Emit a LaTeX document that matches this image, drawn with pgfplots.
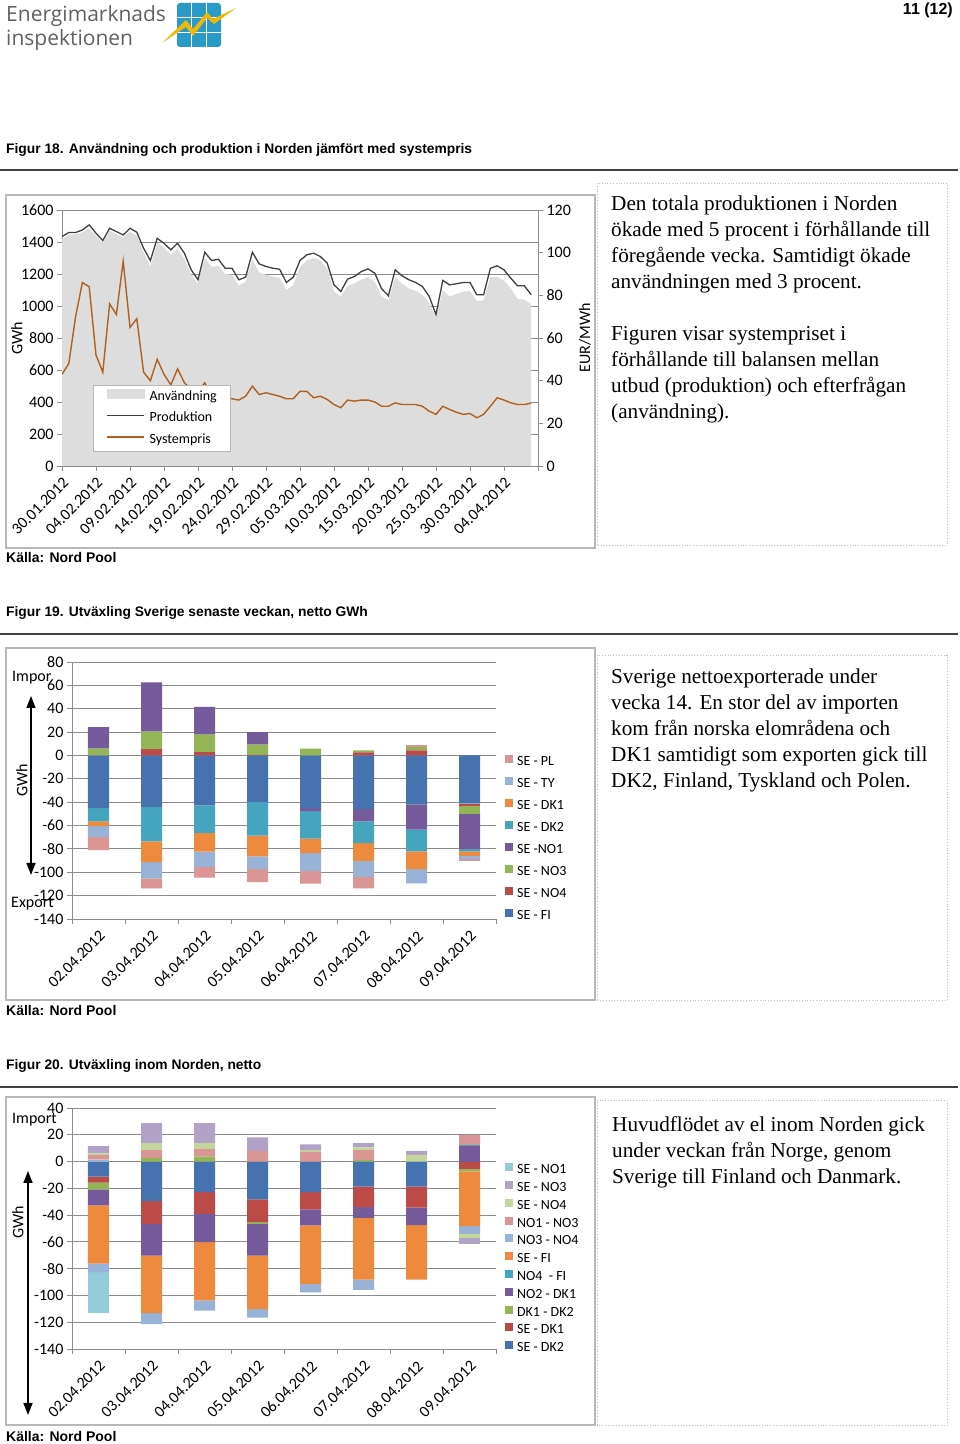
\documentclass[border=0pt]{standalone}
\usepackage{pgfplots}
\pgfplotsset{compat=1.18}
\usepackage{pgfplotstable}
\usepackage{fontspec}
\usetikzlibrary{arrows.meta}
\setmainfont{Liberation Serif}
\newfontfamily\calib{Carlito}
\newfontfamily\arialf{Liberation Sans}
\newfontfamily\logof{Open Sans}

\definecolor{usage}{HTML}{DDDDDD}
\definecolor{prod}{HTML}{404040}
\definecolor{price}{HTML}{B0601E}
\definecolor{gridc}{HTML}{8C8C8C}
\definecolor{boxc}{HTML}{B8B8B8}
\definecolor{logoblue}{HTML}{2A9BC8}
\definecolor{logoyel}{HTML}{F2B705}
\definecolor{c1}{HTML}{4672B0}
\definecolor{c2}{HTML}{BC4B48}
\definecolor{c3}{HTML}{94B556}
\definecolor{c4}{HTML}{755A9C}
\definecolor{c5}{HTML}{45A5BF}
\definecolor{c6}{HTML}{EE8A3E}
\definecolor{c7}{HTML}{98B2D8}
\definecolor{c8}{HTML}{D99694}
\definecolor{c9}{HTML}{C3D69B}
\definecolor{c10}{HTML}{B3A2C7}
\definecolor{c11}{HTML}{93CDDD}

\pgfplotstableread{
d U P S
0 1420 1434 43
1 1445 1459 48
2 1448 1459 70
3 1460 1475 86
4 1485 1507 84
5 1440 1455 52
6 1395 1409 44
7 1470 1486 76
8 1450 1465 71
9 1430 1444 96
10 1465 1486 65
11 1440 1461 69
12 1335 1361 44
13 1245 1284 40
14 1395 1423 50
15 1365 1392 43
16 1320 1351 38
17 1355 1392 45.5
18 1295 1330 39
19 1195 1226 36
20 1140 1164 35
21 1300 1336 39
22 1245 1284 33
23 1250 1292 31.5
24 1200 1236 32
25 1195 1236 31.5
26 1130 1164 30.9
27 1150 1180 32.7
28 1290 1336 37.4
29 1210 1263 33.5
30 1195 1247 34.3
31 1185 1236 33.5
32 1175 1230 32.7
33 1100 1147 31.5
34 1130 1180 31.5
35 1245 1284 35
36 1285 1320 35
37 1300 1330 32
38 1285 1309 32.7
39 1235 1268 31.2
40 1090 1132 28.8
41 1060 1091 27.3
42 1125 1168 30.9
43 1140 1184 30.4
44 1165 1215 30.9
45 1180 1232 30.9
46 1150 1205 30
47 1060 1108 28
48 1035 1064 28
49 1180 1226 29.6
50 1140 1189 28.8
51 1110 1164 28.8
52 1095 1147 28.8
53 1070 1122 28
54 1020 1060 25.7
55 925 946 24.2
56 1100 1160 28
57 1060 1132 26.5
58 1075 1139 25.2
59 1090 1147 24.2
60 1095 1147 24.6
61 1030 1070 22.6
62 1035 1070 24.2
63 1180 1236 28
64 1180 1251 32
65 1160 1226 30.9
66 1110 1174 29.6
67 1045 1126 28.8
68 1040 1126 28.8
69 1010 1070 29.5
}\tabA

\pgfplotstableread{
x fi no4 no3 no1 dk2 dk1 ty pl
0 0 0 5.8 18.4 0 0 0 0
1 0 5.5 15 42 0 0 0 0
2 0 2.9 15 23.6 0 0 0 0
3 0 0.6 8.6 10.7 0 0 0 0
4 0 0 5.8 0 0 0 0 0
5 0 2.6 1.7 0 0 0 0 0
6 0 4.3 2.9 0 0 0 0 2
7 0 0 0 0 0 0 0 0
}\tabBpos
\pgfplotstableread{
x fi no4 no3 no1 dk2 dk1 ty pl
0 -45 0 0 0 -11.5 -4 -9.5 -11
1 -44 0 0 0 -29.5 -17.9 -13.8 -8.6
2 -42.7 0 0 0 -23.6 -16.1 -13 -9.2
3 -40 0 0 0 -28.6 -17.9 -10.9 -11
4 -45 0 0 -2.6 -23.6 -12.4 -15.2 -11
5 -46 0 0 -10.5 -18.5 -15.2 -13.8 -9.8
6 -41.8 0 0 -21.6 -18.7 -15.3 -12.1 0
7 -41.2 -2.3 -6.4 -30.2 -2 -3.8 -2.9 -1.4
}\tabBneg

\pgfplotstableread{
x dk2 sdk1 dd nod nofi sefi n34 n13 sno4 sno3 sno1
0 0 0 0 0 0 0 1.5 3.5 1.2 5.3 0
1 0 0 2.5 0 0 0 0 6 5.25 15 0
2 0 0 3.75 0 0 0 0 5.5 4.5 15 0
3 0 0 0 0 0 0 0 8 0 10 0
4 0 0 0 0 0 0 0 7.25 1.25 4.25 0
5 0 0 1 0 0 0 0 7.5 2 3.25 0
6 0 0 0 0 0 0 0 0 5 3 0
7 0 0 0 11.7 0.7 0 0 7.3 0 0 0
}\tabCpos
\pgfplotstableread{
x dk2 sdk1 dd nod nofi sefi n34 n13 sno4 sno3 sno1
0 -11.25 -4.5 -5 -12 0 -43.5 -6.5 0 0 0 -30
1 -29.5 -17 0 -23.75 0 -43 -8.25 0 0 0 0
2 -22.75 -16.25 0 -21.25 0 -43.5 -7.5 0 0 0 0
3 -28.25 -17 -1.25 -23.75 0 -40 -6.25 0 0 0 0
4 -22.75 -13 0 -12 0 -43.75 -6.25 0 0 0 0
5 -18.75 -15.25 0 -8 0 -46.25 -7.5 0 0 0 0
6 -18.75 -15.75 0 -13 0 -40.75 0 0 0 0 0
7 0 -5.5 -1.75 0 0 -41 -5.8 0 -2.8 -4.9 0
}\tabCneg

\pgfplotsset{
  tickfont/.style={font=\calib\fontsize{16}{16}\selectfont},
  common/.style={
    scale only axis, anchor=south west,
    axis line style={draw=gridc, line width=0.9pt, -},
    tick style={draw=gridc, line width=0.9pt},
    grid style={draw=gridc, line width=0.9pt},
    tick align=outside, major tick length=5pt, minor tick length=5pt,
    tick label style={tickfont, text=black},
    xticklabel style={yshift=-4pt, rotate=45, anchor=north east, inner sep=1pt},
  },
  barchart/.style={
    common,
    xmin=-0.5, xmax=7.5,
    ybar stacked, bar width=21pt,
    axis x line*=bottom, axis y line*=left,
    ymajorgrids,
    xtick={0,...,7},
    xticklabels={02.04.2012,03.04.2012,04.04.2012,05.04.2012,06.04.2012,07.04.2012,08.04.2012,09.04.2012},
    minor xtick={-0.5,0.5,...,7.5},
    major x tick style={draw=none},
    reverse legend,
    legend cell align=left,
    legend image code/.code={\fill[##1] (0pt,-0.5pt) rectangle (8pt,7.5pt);},
  },
}

\begin{document}
\begin{tikzpicture}[x=1pt,y=1pt]
\useasboundingbox (0,0) rectangle (960,1444);
\fill[white] (0,0) rectangle (960,1444);

% ---------- header ----------
\node[anchor=base west, inner sep=0, text=black!62, font=\logof\fontsize{21}{21}\selectfont] at (6,1422) {Energimarknads};
\node[anchor=base west, inner sep=0, text=black!62, font=\logof\fontsize{21}{21}\selectfont] at (6,1398) {inspektionen};
\fill[logoblue, rounded corners=3pt] (177,1441) rectangle (221,1397);
\draw[white, line width=1.4pt] (191.7,1441)--(191.7,1397) (206.3,1441)--(206.3,1397)
  (177,1426.3)--(221,1426.3) (177,1411.7)--(221,1411.7);
\fill[logoyel] (162,1401)--(186,1424)--(193,1415)--(207,1432)--(213,1425)--(236,1436)
  --(214,1420)--(207,1426)--(193,1408)--(186,1417)--cycle;
\node[anchor=base east, inner sep=0, font=\arialf\bfseries\fontsize{16}{16}\selectfont] at (953,1429) {11 (12)};

% ---------- Figure 18 ----------
\node[anchor=base west, inner sep=0, font=\arialf\bfseries\fontsize{13.8}{14}\selectfont] at (6,1290)
  {Figur 18. Användning och produktion i Norden jämfört med systempris};
\draw[black!75, line width=1.6pt] (0,1274) -- (958,1274);
\draw[boxc, line width=1.2pt] (6,896) rectangle (595,1249);
\draw[black!25, dotted, line width=0.8pt] (597,899) rectangle (947,1261);
\node[anchor=base west, inner sep=0, font=\arialf\bfseries\fontsize{14}{14}\selectfont] at (6,881) {Källa: Nord Pool};

\begin{axis}[common,
  at={(62pt,978pt)}, width=476pt, height=256pt,
  xmin=0, xmax=70, ymin=0, ymax=1600,
  axis x line*=bottom, axis y line*=left,
  ymajorgrids,
  ytick={0,200,...,1600},
  yticklabels={0,200,400,600,800,1000,1200,1400,1600},
  xtick={0,5,...,70},
  xticklabels={30.01.2012,04.02.2012,09.02.2012,14.02.2012,19.02.2012,24.02.2012,29.02.2012,05.03.2012,10.03.2012,15.03.2012,20.03.2012,25.03.2012,30.03.2012,04.04.2012,{}},
]
\addplot[fill=usage, draw=none] table[x=d,y=U]{\tabA} \closedcycle;
\addplot[prod, line width=1.3pt] table[x=d,y=P]{\tabA};
\end{axis}

\begin{axis}[common,
  at={(62pt,978pt)}, width=476pt, height=256pt,
  xmin=0, xmax=70, ymin=0, ymax=120,
  axis x line=none, axis y line*=right,
  ytick={0,20,...,120},
  yticklabels={0,20,40,60,80,100,120},
  legend style={at={(0.065,0.316)}, anchor=north west, draw=boxc, fill=white,
    font=\calib\fontsize{14}{14}\selectfont, inner xsep=13pt, inner ysep=4pt,
    row sep=7.5pt, nodes={inner sep=0pt, text height=10pt, text depth=4pt},
    /tikz/every odd column/.append style={column sep=5pt}},
  legend cell align=left,
  legend image code/.code={\draw[#1] (0pt,3.5pt) -- (37pt,3.5pt);},
]
\addlegendimage{legend image code/.code={\fill[usage] (0pt,-0.5pt) rectangle (37pt,8pt);}}
\addlegendentry{Användning}
\addlegendimage{prod, line width=1.3pt}
\addlegendentry{Produktion}
\addplot[price, line width=1.4pt] table[x=d,y=S]{\tabA};
\addlegendentry{Systempris}
\end{axis}

\node[rotate=90, inner sep=0, font=\calib\fontsize{16}{16}\selectfont] at (17,1106) {GWh};
\node[rotate=90, inner sep=0, font=\calib\fontsize{16}{16}\selectfont] at (585,1106) {EUR/MWh};

\begin{scope}[font=\fontsize{21.2}{26}\selectfont]
\node[anchor=base west, inner sep=0] at (611,1233) {Den totala produktionen i Norden};
\node[anchor=base west, inner sep=0] at (611,1207) {ökade med 5 procent i förhållande till};
\node[anchor=base west, inner sep=0] at (611,1181) {föregående vecka. Samtidigt ökade};
\node[anchor=base west, inner sep=0] at (611,1155) {användningen med 3 procent.};
\node[anchor=base west, inner sep=0] at (611,1103) {Figuren visar systempriset i};
\node[anchor=base west, inner sep=0] at (611,1077) {förhållande till balansen mellan};
\node[anchor=base west, inner sep=0] at (611,1051) {utbud (produktion) och efterfrågan};
\node[anchor=base west, inner sep=0] at (611,1025) {(användning).};
\end{scope}

% ---------- Figure 19 ----------
\node[anchor=base west, inner sep=0, font=\arialf\bfseries\fontsize{13.8}{14}\selectfont] at (6,827)
  {Figur 19. Utväxling Sverige senaste veckan, netto GWh};
\draw[black!75, line width=1.6pt] (0,810) -- (958,810);
\draw[boxc, line width=1.2pt] (6,444) rectangle (595,796);
\draw[black!25, dotted, line width=0.8pt] (597,444) rectangle (947,789);
\node[anchor=base west, inner sep=0, font=\arialf\bfseries\fontsize{14}{14}\selectfont] at (6,428) {Källa: Nord Pool};

\begin{axis}[barchart,
  at={(72pt,525pt)}, width=424pt, height=257pt,
  ymin=-140, ymax=80,
  ytick={-140,-120,...,80},
  yticklabels={-140,-120,-100,-80,-60,-40,-20,0,20,40,60,80},
  legend style={at={(1.021,0.64)}, anchor=north west, draw=none, fill=none,
    font=\calib\fontsize{14}{14}\selectfont, inner sep=0pt,
    row sep=7.6pt, nodes={inner sep=0pt, text height=10pt, text depth=4pt},
    /tikz/every odd column/.append style={column sep=4pt}},
]
\addplot[fill=c1, draw=none] table[x=x,y=fi]{\tabBpos}; \addlegendentry{SE - FI}
\addplot[fill=c2, draw=none] table[x=x,y=no4]{\tabBpos}; \addlegendentry{SE - NO4}
\addplot[fill=c3, draw=none] table[x=x,y=no3]{\tabBpos}; \addlegendentry{SE - NO3}
\addplot[fill=c4, draw=none] table[x=x,y=no1]{\tabBpos}; \addlegendentry{SE -NO1}
\addplot[fill=c5, draw=none] table[x=x,y=dk2]{\tabBpos}; \addlegendentry{SE - DK2}
\addplot[fill=c6, draw=none] table[x=x,y=dk1]{\tabBpos}; \addlegendentry{SE - DK1}
\addplot[fill=c7, draw=none] table[x=x,y=ty]{\tabBpos}; \addlegendentry{SE - TY}
\addplot[fill=c8, draw=none] table[x=x,y=pl]{\tabBpos}; \addlegendentry{SE - PL}
\addplot[fill=c1, draw=none] table[x=x,y=fi]{\tabBneg};
\addplot[fill=c2, draw=none] table[x=x,y=no4]{\tabBneg};
\addplot[fill=c3, draw=none] table[x=x,y=no3]{\tabBneg};
\addplot[fill=c4, draw=none] table[x=x,y=no1]{\tabBneg};
\addplot[fill=c5, draw=none] table[x=x,y=dk2]{\tabBneg};
\addplot[fill=c6, draw=none] table[x=x,y=dk1]{\tabBneg};
\addplot[fill=c7, draw=none] table[x=x,y=ty]{\tabBneg};
\addplot[fill=c8, draw=none] table[x=x,y=pl]{\tabBneg};
\end{axis}

\node[rotate=90, inner sep=0, font=\calib\fontsize{16}{16}\selectfont] at (22,664) {GWh};
\node[anchor=west, inner sep=0, font=\calib\fontsize{16}{16}\selectfont] at (12,766) {Impor};
\node[anchor=west, inner sep=0, font=\calib\fontsize{16}{16}\selectfont] at (11,540) {Export};
\draw[{Triangle[length=12pt,width=9pt]}-{Triangle[length=12pt,width=9pt]}, line width=1.6pt] (31,748) -- (31,569);

\begin{scope}[font=\fontsize{21.2}{26}\selectfont]
\node[anchor=base west, inner sep=0] at (611,760) {Sverige nettoexporterade under};
\node[anchor=base west, inner sep=0] at (611,734) {vecka 14. En stor del av importen};
\node[anchor=base west, inner sep=0] at (611,708) {kom från norska elområdena och};
\node[anchor=base west, inner sep=0] at (611,682) {DK1 samtidigt som exporten gick till};
\node[anchor=base west, inner sep=0] at (611,656) {DK2, Finland, Tyskland och Polen.};
\end{scope}

% ---------- Figure 20 ----------
\node[anchor=base west, inner sep=0, font=\arialf\bfseries\fontsize{13.8}{14}\selectfont] at (6,374)
  {Figur 20. Utväxling inom Norden, netto};
\draw[black!75, line width=1.6pt] (0,357) -- (958,357);
\draw[boxc, line width=1.2pt] (6,19) rectangle (595,347);
\draw[black!25, dotted, line width=0.8pt] (597,19) rectangle (947,344);
\node[anchor=base west, inner sep=0, font=\arialf\bfseries\fontsize{14}{14}\selectfont] at (6,2) {Källa: Nord Pool};

\begin{axis}[barchart,
  at={(72pt,95pt)}, width=424pt, height=241pt,
  ymin=-140, ymax=40,
  ytick={-140,-120,...,40},
  yticklabels={-140,-120,-100,-80,-60,-40,-20,0,20,40},
  legend style={at={(1.021,0.772)}, anchor=north west, draw=none, fill=none,
    font=\calib\fontsize{14}{14}\selectfont, inner sep=0pt,
    row sep=3.3pt, nodes={inner sep=0pt, text height=10pt, text depth=4pt},
    /tikz/every odd column/.append style={column sep=4pt}},
]
\addplot[fill=c1, draw=none] table[x=x,y=dk2]{\tabCpos}; \addlegendentry{SE - DK2}
\addplot[fill=c2, draw=none] table[x=x,y=sdk1]{\tabCpos}; \addlegendentry{SE - DK1}
\addplot[fill=c3, draw=none] table[x=x,y=dd]{\tabCpos}; \addlegendentry{DK1 - DK2}
\addplot[fill=c4, draw=none] table[x=x,y=nod]{\tabCpos}; \addlegendentry{NO2 - DK1}
\addplot[fill=c5, draw=none] table[x=x,y=nofi]{\tabCpos}; \addlegendentry{NO4\ \ - FI}
\addplot[fill=c6, draw=none] table[x=x,y=sefi]{\tabCpos}; \addlegendentry{SE - FI}
\addplot[fill=c7, draw=none] table[x=x,y=n34]{\tabCpos}; \addlegendentry{NO3 - NO4}
\addplot[fill=c8, draw=none] table[x=x,y=n13]{\tabCpos}; \addlegendentry{NO1 - NO3}
\addplot[fill=c9, draw=none] table[x=x,y=sno4]{\tabCpos}; \addlegendentry{SE - NO4}
\addplot[fill=c10, draw=none] table[x=x,y=sno3]{\tabCpos}; \addlegendentry{SE - NO3}
\addplot[fill=c11, draw=none] table[x=x,y=sno1]{\tabCpos}; \addlegendentry{SE - NO1}
\addplot[fill=c1, draw=none] table[x=x,y=dk2]{\tabCneg};
\addplot[fill=c2, draw=none] table[x=x,y=sdk1]{\tabCneg};
\addplot[fill=c3, draw=none] table[x=x,y=dd]{\tabCneg};
\addplot[fill=c4, draw=none] table[x=x,y=nod]{\tabCneg};
\addplot[fill=c5, draw=none] table[x=x,y=nofi]{\tabCneg};
\addplot[fill=c6, draw=none] table[x=x,y=sefi]{\tabCneg};
\addplot[fill=c7, draw=none] table[x=x,y=n34]{\tabCneg};
\addplot[fill=c8, draw=none] table[x=x,y=n13]{\tabCneg};
\addplot[fill=c9, draw=none] table[x=x,y=sno4]{\tabCneg};
\addplot[fill=c10, draw=none] table[x=x,y=sno3]{\tabCneg};
\addplot[fill=c11, draw=none] table[x=x,y=sno1]{\tabCneg};
\end{axis}

\node[rotate=90, inner sep=0, font=\calib\fontsize{16}{16}\selectfont] at (18,222) {GWh};
\node[anchor=west, inner sep=0, font=\calib\fontsize{16}{16}\selectfont] at (12,324) {Import};
\draw[{Triangle[length=12pt,width=9pt]}-{Triangle[length=12pt,width=9pt]}, line width=1.6pt] (28,273) -- (28,29);

\begin{scope}[font=\fontsize{21.2}{26}\selectfont]
\node[anchor=base west, inner sep=0] at (612,312) {Huvudflödet av el inom Norden gick};
\node[anchor=base west, inner sep=0] at (612,286) {under veckan från Norge, genom};
\node[anchor=base west, inner sep=0] at (612,260) {Sverige till Finland och Danmark.};
\end{scope}
\end{tikzpicture}
\end{document}
